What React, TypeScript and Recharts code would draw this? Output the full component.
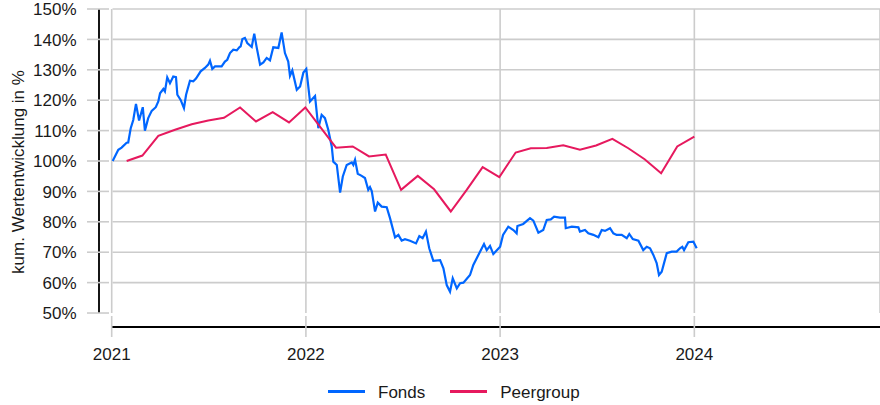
import { CartesianGrid, Legend, Line, LineChart, ReferenceLine, XAxis, YAxis } from "recharts";

const FONT = "'Liberation Sans', Arial, sans-serif";
const GRID = "#cccccc";
const TEXT = "#1a1a1a";

// years since 1 Jan 2021
const yearTicks = [0, 1, 2, 3];
const yearLabels = ["2021", "2022", "2023", "2024"];
const pctTicks = [50, 60, 70, 80, 90, 100, 110, 120, 130, 140, 150];

const fondsT = [
  0.005, 0.034, 0.051, 0.077, 0.085, 0.098, 0.111, 0.125, 0.141, 0.16, 0.171, 0.188, 0.206, 0.227, 0.24, 0.249,
  0.266, 0.274, 0.286, 0.3, 0.317, 0.331, 0.338, 0.355, 0.372, 0.383, 0.403, 0.42, 0.434, 0.458, 0.48, 0.497,
  0.506, 0.518, 0.532, 0.566, 0.583, 0.595, 0.609, 0.626, 0.644, 0.657, 0.664, 0.673, 0.686, 0.698, 0.721, 0.734,
  0.747, 0.764, 0.781, 0.798, 0.815, 0.832, 0.858, 0.875, 0.892, 0.909, 0.918, 0.93, 0.953, 0.97, 0.987, 1.002,
  1.021, 1.047, 1.064, 1.081, 1.098, 1.115, 1.133, 1.141, 1.159, 1.176, 1.19, 1.21, 1.236, 1.244, 1.253, 1.267,
  1.287, 1.304, 1.321, 1.33, 1.339, 1.356, 1.37, 1.39, 1.416, 1.433, 1.459, 1.476, 1.493, 1.51, 1.536, 1.567,
  1.584, 1.601, 1.618, 1.635, 1.656, 1.691, 1.708, 1.725, 1.742, 1.756, 1.777, 1.794, 1.811, 1.845, 1.862, 1.888,
  1.917, 1.931, 1.948, 1.965, 2.0, 2.015, 2.042, 2.068, 2.085, 2.089, 2.119, 2.154, 2.171, 2.197, 2.222, 2.24,
  2.261, 2.278, 2.308, 2.334, 2.338, 2.369, 2.403, 2.411, 2.437, 2.454, 2.48, 2.506, 2.523, 2.54, 2.566, 2.583,
  2.6, 2.626, 2.652, 2.665, 2.683, 2.712, 2.737, 2.755, 2.772, 2.789, 2.806, 2.818, 2.832, 2.844, 2.858, 2.884,
  2.909, 2.926, 2.938, 2.947, 2.969, 2.995, 3.012,
];
const fondsV = [
  100.0, 103.7, 104.4, 106.0, 106.1, 110.8, 113.5, 118.8, 113.3, 117.7, 110.0, 114.1, 116.5, 117.7, 119.6, 122.3,
  123.7, 122.9, 127.5, 125.6, 127.8, 127.6, 121.8, 120.1, 117.4, 121.8, 126.4, 126.2, 127.1, 129.5, 130.6, 131.7,
  133.0, 130.3, 131.1, 131.1, 132.7, 133.3, 135.5, 136.6, 136.4, 137.4, 137.7, 140.1, 140.5, 138.8, 137.5, 141.9,
  137.2, 131.7, 132.4, 133.9, 133.1, 137.4, 137.2, 142.3, 135.5, 132.7, 128.0, 129.8, 123.4, 124.5, 129.1, 130.3,
  119.6, 121.4, 110.8, 115.2, 114.1, 110.3, 104.8, 99.8, 98.7, 89.6, 94.9, 98.7, 99.5, 98.7, 100.4, 95.8,
  95.1, 94.4, 90.5, 91.4, 90.1, 83.4, 86.3, 85.0, 84.8, 81.2, 74.9, 75.7, 73.8, 74.3, 73.8, 72.9,
  75.3, 74.6, 76.8, 71.3, 67.2, 67.4, 64.7, 59.2, 57.0, 61.4, 58.1, 59.8, 60.0, 62.5, 65.8, 69.1,
  72.7, 70.7, 72.1, 69.4, 71.8, 75.7, 78.4, 77.3, 76.2, 78.6, 79.3, 81.2, 80.4, 76.4, 77.3, 80.6,
  80.8, 81.7, 81.4, 81.4, 77.9, 78.4, 78.2, 76.8, 77.3, 76.2, 75.7, 74.9, 77.3, 77.0, 77.9, 76.2,
  75.7, 75.7, 74.6, 76.0, 74.3, 73.8, 70.7, 71.8, 71.3, 69.1, 66.4, 62.5, 63.6, 66.4, 69.7, 70.2,
  70.2, 71.3, 71.8, 70.7, 73.3, 73.5, 71.3,
];

const peerT = [
  0.077, 0.158, 0.24, 0.326, 0.412, 0.497, 0.578, 0.661, 0.743, 0.829, 0.913, 0.997, 1.155, 1.241, 1.325, 1.411,
  1.49, 1.576, 1.66, 1.746, 1.828, 1.91, 1.996, 2.08, 2.158, 2.24, 2.325, 2.411, 2.494, 2.578, 2.66, 2.744,
  2.829, 2.912, 3.0,
];
const peerV = [
  100.0, 101.8, 108.3, 110.3, 112.1, 113.3, 114.2, 117.6, 113.0, 116.1, 112.7, 117.6, 104.4, 104.8, 101.5, 102.1,
  90.5, 95.1, 90.7, 83.4, 90.5, 98.0, 94.7, 102.8, 104.2, 104.3, 105.2, 103.7, 105.1, 107.3, 104.2, 100.6,
  96.0, 104.8, 108.0,
];

const fonds = fondsT.map((t, i) => ({ t, v: fondsV[i] }));
const peer = peerT.map((t, i) => ({ t, v: peerV[i] }));

const X_MIN = -0.0654;
const X_MAX = 3.956;
const Y_MIN = 45.4;

const hLine = (p: any) =>
  p.y1 > 300 ? (
    <g key={`h${p.index}`} />
  ) : (
    <line key={`h${p.index}`} x1={p.x1 + 13.5} x2={p.x2} y1={p.y1} y2={p.y2} stroke={GRID} strokeWidth={1.6} />
  );

const vLine = (p: any) => (
  <line key={`v${p.index}`} x1={p.x1} x2={p.x2} y1={p.y1} y2={p.y2 - 14} stroke={GRID} strokeWidth={1.6} />
);

const XTick = ({ x, y, payload }: any) => (
  <g>
    <line x1={x} x2={x} y1={y - 11} y2={y + 10} stroke={GRID} strokeWidth={1.6} />
    <text x={x} y={y + 32.5} textAnchor="middle" fontSize={17} fill={TEXT} fontFamily={FONT}>
      {yearLabels[yearTicks.indexOf(payload.value)]}
    </text>
  </g>
);

const YTick = ({ x, y, payload }: any) => (
  <g>
    <line x1={x - 12} x2={x + 10} y1={y} y2={y} stroke={GRID} strokeWidth={1.6} />
    <text x={x - 22.5} y={y} dy="0.36em" textAnchor="end" fontSize={17} fill={TEXT} fontFamily={FONT}>
      {`${payload.value}%`}
    </text>
  </g>
);

const YLabel = () => (
  <text
    x={18}
    y={172}
    transform="rotate(-90, 18, 172)"
    textAnchor="middle"
    dominantBaseline="central"
    fontSize={17}
    fill={TEXT}
    fontFamily={FONT}
  >
    kum. Wertentwicklung in %
  </text>
);

const LegendContent = ({ payload }: any) => (
  <div style={{ display: "flex", alignItems: "center", height: 30, marginTop: 3, paddingLeft: 328, fontFamily: FONT, fontSize: 17, color: TEXT }}>
    {(payload || []).map((e: any) => (
      <div key={e.value} style={{ display: "flex", alignItems: "center", marginRight: 25 }}>
        <span style={{ display: "inline-block", width: 37, height: 3, background: e.color, marginRight: 13, position: "relative", top: -2 }} />
        <span>{e.value}</span>
      </div>
    ))}
  </div>
);

export default function App() {
  return (
    <div style={{ position: "absolute", left: 0, top: 0, background: "#fff" }}>
      <LineChart width={880} height={405} margin={{ top: 9, right: 0, bottom: 0, left: 0 }} style={{ fontFamily: FONT }}>
        <CartesianGrid horizontal={hLine} vertical={vLine} />
        <XAxis
          type="number"
          dataKey="t"
          domain={[X_MIN, X_MAX]}
          ticks={yearTicks}
          allowDataOverflow
          height={48}
          axisLine={false}
          tickLine={false}
          tickSize={0}
          tickMargin={0}
          tick={<XTick />}
        />
        <YAxis
          type="number"
          domain={[Y_MIN, 150]}
          ticks={pctTicks}
          allowDataOverflow
          width={99}
          axisLine={false}
          tickLine={false}
          tickSize={0}
          tickMargin={0}
          tick={<YTick />}
          label={<YLabel />}
        />
        <ReferenceLine
          segment={[{ x: X_MIN, y: 50 }, { x: X_MIN, y: 150 }]}
          stroke="#000"
          strokeWidth={1.8}
          ifOverflow="visible"
        />
        <ReferenceLine
          segment={[{ x: 0, y: Y_MIN }, { x: X_MAX, y: Y_MIN }]}
          stroke="#000"
          strokeWidth={1.8}
          ifOverflow="visible"
        />
        <Line data={fonds} dataKey="v" name="Fonds" type="linear" stroke="#0066ff" strokeWidth={2.2} dot={false} isAnimationActive={false} />
        <Line data={peer} dataKey="v" name="Peergroup" type="linear" stroke="#e6195e" strokeWidth={2} dot={false} isAnimationActive={false} />
        <Legend verticalAlign="bottom" height={30} content={<LegendContent />} />
      </LineChart>
    </div>
  );
}
